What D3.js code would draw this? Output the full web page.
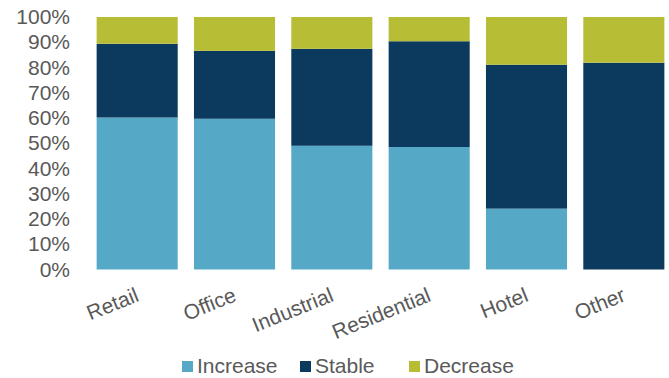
<!DOCTYPE html>
<html>
<head>
<meta charset="utf-8">
<script src="https://cdn.jsdelivr.net/npm/d3@7"></script>
<style>
  body { margin: 0; background: #fff; }
  text { font-family: "Liberation Sans", Arial, sans-serif; fill: #595959; }
</style>
</head>
<body>
<div id="chart"></div>
<script>
// data
const categories = ["Retail", "Office", "Industrial", "Residential", "Hotel", "Other"];
const seriesNames = ["Increase", "Stable", "Decrease"];
const increase = [60.2, 59.7, 49.0, 48.5, 24.1, 0];
const stable   = [29.2, 26.9, 38.4, 41.9, 57.0, 81.9];
const decrease = [10.6, 13.4, 12.6, 9.6, 18.9, 18.1];
const yTicks = [0, 10, 20, 30, 40, 50, 60, 70, 80, 90, 100];
const colors = ["#56a9c6", "#0b3a5e", "#b7be36"];

const width = 669, height = 378;
const fontSize = "21px";

const svg = d3.select("#chart")
  .append("svg")
    .attr("width", width)
    .attr("height", height);

const x = d3.scaleBand()
  .domain(categories)
  .range([88.5, 672.5])
  .paddingInner(0.167)
  .paddingOuter(0.0835);

const y = d3.scaleLinear()
  .domain([0, 100])
  .range([269.5, 17]);

// stack the series
const table = categories.map((c, i) => ({
  cat: c, Increase: increase[i], Stable: stable[i], Decrease: decrease[i]
}));
const stacked = d3.stack().keys(seriesNames)(table);

svg.append("g")
  .selectAll("g")
  .data(stacked)
  .join("g")
    .attr("fill", (d, i) => colors[i])
  .selectAll("rect")
  .data(d => d)
  .join("rect")
    .attr("x", d => x(d.data.cat))
    .attr("y", d => y(d[1]))
    .attr("width", x.bandwidth())
    .attr("height", d => y(d[0]) - y(d[1]));

// Y axis
const yAxis = svg.append("g")
  .attr("transform", "translate(71,0)")
  .call(d3.axisLeft(y).tickValues(yTicks).tickFormat(d => d + "%").tickSize(0).tickPadding(1));
yAxis.select(".domain").remove();
yAxis.selectAll(".tick text")
  .style("font-size", fontSize)
  .attr("fill", "#595959")
  .attr("font-family", "Liberation Sans, Arial, sans-serif");

// X axis labels, rotated
const xAxis = svg.append("g")
  .attr("transform", "translate(0,269.5)")
  .call(d3.axisBottom(x).tickSize(0).tickPadding(0));
xAxis.select(".domain").remove();
xAxis.selectAll(".tick text")
  .style("font-size", fontSize)
  .attr("fill", "#595959")
  .attr("font-family", "Liberation Sans, Arial, sans-serif")
  .attr("text-anchor", "end")
  .attr("dy", null)
  .attr("transform", "translate(3,31) rotate(-22)");

// Legend
const legendX = [182, 300, 409];
const legend = svg.append("g");
seriesNames.forEach((s, i) => {
  legend.append("rect")
    .attr("x", legendX[i]).attr("y", 361)
    .attr("width", 11).attr("height", 11)
    .attr("fill", colors[i]);
  legend.append("text")
    .attr("x", legendX[i] + 15).attr("y", 373)
    .style("font-size", fontSize)
    .text(s);
});
</script>
</body>
</html>
